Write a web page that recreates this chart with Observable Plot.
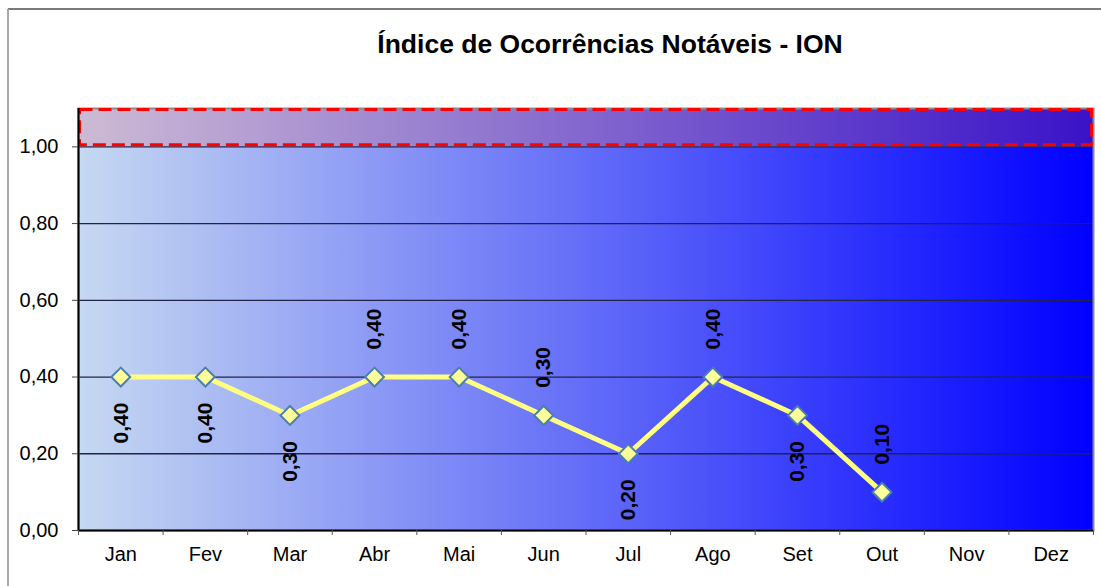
<!DOCTYPE html>
<html>
<head>
<meta charset="utf-8">
<script src="https://cdn.jsdelivr.net/npm/d3@7"></script>
<script src="https://cdn.jsdelivr.net/npm/@observablehq/plot@0.6"></script>
<style>
  html, body { margin: 0; padding: 0; background: #fff; }
  #wrap { position: relative; width: 1101px; height: 586px; background: #fff; overflow: hidden;
          font-family: "Liberation Sans", Arial, sans-serif; }
  #frameTop { position: absolute; left: 8px; top: 8px; width: 1093px; height: 2px; background: #7a7a7a; }
  #frameLeft { position: absolute; left: 7px; top: 9px; width: 2px; height: 577px; background: #a8a8a8; }
  #title { position: absolute; left: 0; top: 31px; width: 1220px; text-align: center;
           font-size: 26.5px; line-height: 26px; font-weight: bold; color: #000; }
  #chart { position: absolute; left: 0; top: 80px; }
</style>
</head>
<body>
<div id="wrap">
  <div id="frameTop"></div>
  <div id="frameLeft"></div>
  <div id="title">Índice de Ocorrências Notáveis - ION</div>
  <div id="chart"></div>
</div>
<script>
const months = ["Jan","Fev","Mar","Abr","Mai","Jun","Jul","Ago","Set","Out","Nov","Dez"];
const values = [0.40, 0.40, 0.30, 0.40, 0.40, 0.30, 0.20, 0.40, 0.30, 0.10];
const labelSide = ["below","below","below","above","above","above","below","above","below","above"];
const yTicks = [0, 0.2, 0.4, 0.6, 0.8, 1.0];
const targetBand = [1.0, 1.1];

const fmt = v => d3.format(".2f")(v).replace(".", ",");
const data = values.map((v, i) => ({month: months[i], value: v, side: labelSide[i]}));

const W = 1101, H = 506, mL = 78, mR = 8, mT = 28, mB = 56;
const step = (W - mL - mR) / months.length;

const chart = Plot.plot({
  width: W, height: H,
  marginLeft: mL, marginRight: mR, marginTop: mT, marginBottom: mB,
  x: {type: "point", domain: months, padding: 0.5, align: 0.5, round: false},
  y: {domain: [0, targetBand[1]]},
  style: {fontFamily: "'Liberation Sans', Arial, sans-serif", fontSize: "20px", color: "#000", background: "transparent", overflow: "visible"},
  marks: [
    Plot.rect([0], {y1: 0, y2: targetBand[0], fill: "url(#bgGrad)"}),
    Plot.rect([0], {y1: targetBand[0], y2: targetBand[1], fill: "url(#bandGrad)"}),
    Plot.ruleY(yTicks.filter(d => d > 0), {stroke: "#23234a", strokeWidth: 1.3}),
    Plot.frame({stroke: "#8a8a8a", strokeWidth: 2}),
    Plot.rect([0], {y1: targetBand[0], y2: targetBand[1], fill: "none", stroke: "#ff0000", strokeWidth: 3, strokeDasharray: "13,6", inset: 1.5}),
    Plot.ruleY([0], {stroke: "#000", strokeWidth: 2}),
    Plot.ruleX([months[0]], {stroke: "#000", strokeWidth: 2, dx: -step / 2}),
    Plot.axisY({ticks: yTicks, tickFormat: fmt, tickSize: 6, tickPadding: 14, label: null, fontSize: 20, stroke: "#444"}),
    Plot.axisX({tickSize: 0, tickPadding: 16, label: null, fontSize: 20}),
    Plot.axisX({ticks: months, tickSize: 5, tickFormat: () => "", label: null, dx: -step / 2, stroke: "#555"}),
    Plot.axisX({ticks: [months[months.length - 1]], tickSize: 5, tickFormat: () => "", label: null, dx: step / 2, stroke: "#555"}),
    Plot.line(data, {x: "month", y: "value", stroke: "#ffff80", strokeWidth: 5}),
    Plot.dot(data, {x: "month", y: "value", symbol: "diamond2", r: 8.5, fill: "#ffff99", stroke: "#4a7fae", strokeWidth: 2}),
    Plot.text(data.filter(d => d.side === "above"), {x: "month", y: "value", text: d => fmt(d.value), rotate: -90, dy: -48, fontWeight: "bold", fontSize: 21, fill: "#000"}),
    Plot.text(data.filter(d => d.side === "below"), {x: "month", y: "value", text: d => fmt(d.value), rotate: -90, dy: 46, fontWeight: "bold", fontSize: 21, fill: "#000"})
  ]
});

const ns = "http://www.w3.org/2000/svg";
const defs = document.createElementNS(ns, "defs");
defs.innerHTML = `
  <linearGradient id="bgGrad" x1="0" y1="0" x2="1" y2="0">
    <stop offset="0" stop-color="#c6d9f1"/>
    <stop offset="1" stop-color="#0000ff"/>
  </linearGradient>
  <linearGradient id="bandGrad" x1="0" y1="0" x2="1" y2="0">
    <stop offset="0" stop-color="#cdbbd4"/>
    <stop offset="1" stop-color="#3a12c8"/>
  </linearGradient>`;
chart.insertBefore(defs, chart.firstChild);
document.getElementById("chart").appendChild(chart);
</script>
</body>
</html>
